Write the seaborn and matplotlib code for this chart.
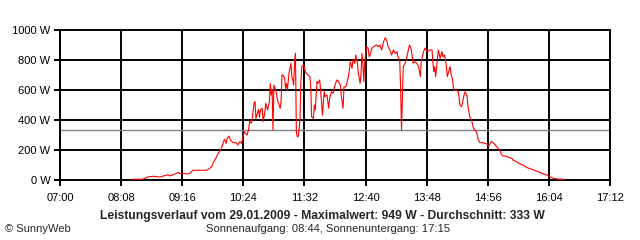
import matplotlib
matplotlib.use("Agg")
import matplotlib.pyplot as plt
import seaborn as sns
import pandas as pd

# ---- data (minutes since midnight, power in W) ----
minutes = [501, 512, 515, 517, 524, 531, 535, 540, 542, 546, 552, 553, 557, 561, 564, 568, 583, 585, 589, 591,
           594, 596, 599, 601, 603, 605, 606, 608, 610, 613, 616, 618, 620, 622, 625, 628, 630, 631, 633, 634,
           636, 637, 638, 641, 642, 643, 645, 646, 648, 649, 651, 653, 654, 655, 656, 657, 658, 660, 662, 665,
           666, 667, 668, 670, 671, 672, 673, 675, 676, 677, 678, 679, 680, 681, 682, 683, 684, 685, 686, 687,
           688, 689, 691, 693, 694, 696, 698, 699, 700, 702, 703, 704, 706, 707, 709, 711, 712, 714, 715, 717,
           719, 720, 722, 724, 726, 728, 730, 732, 733, 734, 735, 736, 738, 740, 741, 742, 743, 745, 746, 748,
           749, 751, 752, 754, 755, 756, 757, 758, 759, 761, 763, 764, 765, 767, 769, 772, 774, 776, 778, 780,
           782, 784, 785, 787, 789, 791, 793, 795, 796, 798, 799, 800, 801, 802, 804, 806, 808, 809, 811, 813,
           815, 817, 819, 821, 822, 824, 826, 828, 830, 832, 834, 835, 836, 837, 838, 840, 841, 843, 845, 846,
           848, 850, 851, 852, 854, 855, 857, 858, 861, 863, 864, 865, 867, 868, 870, 871, 873, 874, 876, 878,
           880, 882, 884, 885, 887, 891, 895, 897, 898, 900, 902, 904, 906, 908, 910, 911, 913, 916, 919, 923,
           924, 928, 932, 936, 939, 943, 947, 950, 954, 958, 962, 965, 969, 973, 982]
watts = [5, 5, 13, 20, 25, 20, 27, 35, 27, 35, 51, 43, 45, 40, 43, 65, 65, 71, 89, 122,
         151, 178, 204, 238, 271, 244, 278, 293, 262, 249, 249, 233, 256, 244, 322, 300, 338, 396, 378, 411,
         511, 522, 411, 471, 418, 467, 478, 389, 456, 511, 467, 522, 644, 567, 600, 333, 633, 600, 533, 478,
         522, 700, 700, 678, 611, 644, 600, 722, 744, 778, 689, 667, 633, 782, 844, 322, 289, 289, 333, 400,
         644, 756, 767, 722, 711, 700, 689, 622, 422, 411, 500, 467, 656, 644, 667, 522, 433, 589, 556, 567,
         478, 545, 589, 578, 633, 667, 656, 633, 556, 522, 478, 622, 622, 667, 689, 733, 789, 744, 800, 778,
         833, 778, 711, 644, 711, 844, 778, 656, 778, 889, 878, 822, 833, 878, 889, 900, 889, 900, 867, 922,
         949, 922, 889, 867, 833, 867, 844, 856, 822, 800, 620, 333, 556, 756, 778, 822, 878, 900, 867, 778,
         789, 778, 756, 689, 790, 845, 880, 860, 860, 867, 867, 778, 722, 756, 689, 811, 867, 811, 856, 822,
         833, 756, 689, 711, 756, 711, 667, 600, 600, 589, 556, 500, 489, 522, 578, 589, 556, 489, 422, 400,
         344, 333, 311, 278, 250, 248, 240, 222, 236, 258, 247, 236, 222, 207, 189, 173, 160, 160, 151, 144,
         133, 122, 107, 98, 84, 76, 67, 60, 51, 40, 33, 22, 11, 7, 4]
average_w = 333
x_ticks = [420, 488, 556, 624, 692, 760, 828, 896, 964, 1032]
x_labels = ["07:00", "08:08", "09:16", "10:24", "11:32", "12:40", "13:48", "14:56", "16:04", "17:12"]
y_ticks = [0, 200, 400, 600, 800, 1000]
y_labels = ["0 W", "200 W", "400 W", "600 W", "800 W", "1000 W"]
title = "Leistungsverlauf vom 29.01.2009 - Maximalwert: 949 W - Durchschnitt: 333 W"
subtitle = "Sonnenaufgang: 08:44, Sonnenuntergang: 17:15"
credit = "© SunnyWeb"

sns.set_style("white")
plt.rcParams['font.family'] = ['Liberation Sans', 'DejaVu Sans']

fig = plt.figure(figsize=(6.4, 2.4), dpi=100)
fig.patch.set_facecolor("white")
ax = fig.add_axes([60 / 640, 60 / 240, 550 / 640, 150 / 240])

df = pd.DataFrame({"t": minutes, "w": watts})
ax.axhline(average_w, color="#808080", lw=1.0, zorder=2)
sns.lineplot(data=df, x="t", y="w", ax=ax, color="#ff0000", linewidth=0.8, zorder=3)

ax.set_xlim(x_ticks[0], x_ticks[-1])
ax.set_ylim(0, 1000)
ax.set_xticks(x_ticks)
ax.set_xticklabels(x_labels)
ax.set_yticks(y_ticks)
ax.set_yticklabels(y_labels)
ax.set_xlabel("")
ax.set_ylabel("")
ax.grid(True, color="black", linewidth=1.4, zorder=1)
ax.set_axisbelow(True)
for s in ax.spines.values():
    s.set_visible(True)
    s.set_color("black")
    s.set_linewidth(1.4)
ax.tick_params(axis="both", direction="out", length=4, width=1.4, color="black",
               labelsize=8, labelcolor="black")
ax.tick_params(axis="x", pad=5.5)
ax.tick_params(axis="y", pad=3)
ax.tick_params(bottom=True, left=True)

fig.text(322 / 640, 1 - 216 / 240, title, ha="center", va="center", fontsize=8.7, fontweight="bold")
fig.text(328 / 640, 1 - 229 / 240, subtitle, ha="center", va="center", fontsize=8.1)
fig.text(5 / 640, 1 - 229 / 240, credit, ha="left", va="center", fontsize=8)

fig.savefig("out.png", dpi=100)
